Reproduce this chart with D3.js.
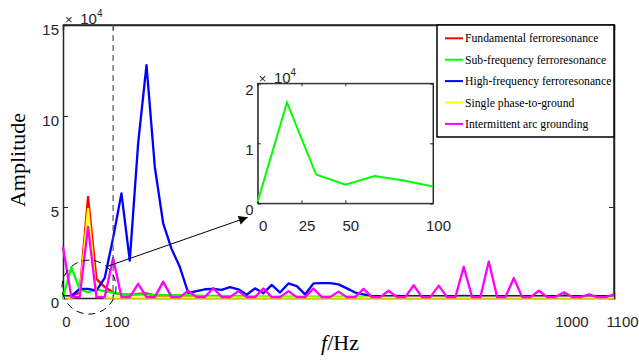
<!DOCTYPE html>
<meta charset="utf-8">
<style>
    body { margin: 0; background: #fff; }
    svg { display: block; }
    .tick text { font: 15px "Liberation Sans", Arial, sans-serif; fill: #262626; }
    .axis path, .axis line { stroke: #262626; }
    .legend text { font: 11.7px "Liberation Serif", "Times New Roman", serif; fill: #000; }
    .title { font: 22px "Liberation Serif", "Times New Roman", serif; fill: #000; }
</style>
<body>
<script src="https://cdn.jsdelivr.net/npm/d3@7"></script>
<script>
// frequency bins (Hz)
var freq = [0, 16.7, 33.3, 50, 66.7, 83.3, 100, 116.7, 133.3, 150, 166.7, 183.3, 200, 216.7, 233.3, 250,
    266.7, 283.3, 300, 316.7, 333.3, 350, 366.7, 383.3, 400, 416.7, 433.3, 450, 466.7, 483.3, 500,
    516.7, 533.3, 550, 566.7, 583.3, 600, 616.7, 633.3, 650, 666.7, 683.3, 700, 716.7, 733.3, 750,
    766.7, 783.3, 800, 816.7, 833.3, 850, 866.7, 883.3, 900, 916.7, 933.3, 950, 966.7, 983.3, 1000,
    1016.7, 1033.3, 1050, 1066.7, 1083.3, 1100];

// amplitudes (x 10^4)
var fundamental = [0.05, 0.1, 0.3, 5.55, 1.05, 0.6, 0.3, 0.2, 0.18, 0.22, 0.25, 0.15, 0.1, 0.08, 0.06, 0.05,
    0.05, 0.05, 0.05, 0.05, 0.05, 0.05, 0.05, 0.05, 0.05, 0.05, 0.05, 0.05, 0.05, 0.05, 0.05,
    0.05, 0.05, 0.05, 0.05, 0.05, 0.05, 0.05, 0.05, 0.05, 0.05, 0.05, 0.05, 0.05, 0.05, 0.05,
    0.05, 0.05, 0.05, 0.05, 0.05, 0.05, 0.05, 0.05, 0.05, 0.05, 0.05, 0.05, 0.05, 0.05, 0.05,
    0.05, 0.05, 0.05, 0.05, 0.05, 0.05];
var subFreq = [0.03, 1.68, 0.48, 0.31, 0.455, 0.38, 0.28, 0.22, 0.2, 0.2, 0.18, 0.17, 0.16, 0.15, 0.15, 0.14,
    0.13, 0.12, 0.12, 0.11, 0.1, 0.1, 0.09, 0.09, 0.08, 0.08, 0.08, 0.08, 0.07, 0.07, 0.07,
    0.07, 0.07, 0.07, 0.07, 0.07, 0.07, 0.07, 0.07, 0.07, 0.07, 0.07, 0.07, 0.07, 0.07, 0.07,
    0.07, 0.07, 0.07, 0.07, 0.07, 0.07, 0.07, 0.07, 0.07, 0.07, 0.07, 0.07, 0.07, 0.07, 0.07,
    0.07, 0.07, 0.07, 0.07, 0.07, 0.07];
var highFreq = [0.1, 0.12, 0.5, 0.5, 0.4, 1.1, 3.3, 5.75, 2.05, 8.5, 12.8, 7.2, 4.1, 2.7, 1.7, 0.28,
    0.38, 0.48, 0.5, 0.45, 0.6, 0.48, 0.18, 0.53, 0.26, 0.72, 0.3, 0.8, 0.65, 0.2, 0.8,
    0.82, 0.82, 0.75, 0.53, 0.3, 0.2, 0.1, 0.1, 0.1, 0.11, 0.1, 0.1, 0.1, 0.1, 0.1,
    0.1, 0.1, 0.11, 0.1, 0.1, 0.1, 0.1, 0.1, 0.1, 0.1, 0.1, 0.1, 0.1, 0.1, 0.12,
    0.1, 0.1, 0.1, 0.1, 0.1, 0.1];
var singlePhase = [0.02, 0.02, 0.1, 4.9, 0.2, 0.02, 0.02, 0.02, 0.02, 0.02, 0.02, 0.02, 0.02, 0.02, 0.02, 0.02,
    0.02, 0.02, 0.02, 0.02, 0.02, 0.02, 0.02, 0.02, 0.02, 0.02, 0.02, 0.02, 0.02, 0.02, 0.02,
    0.02, 0.02, 0.02, 0.02, 0.02, 0.02, 0.02, 0.02, 0.02, 0.02, 0.02, 0.02, 0.02, 0.02, 0.02,
    0.02, 0.02, 0.02, 0.02, 0.02, 0.02, 0.02, 0.02, 0.02, 0.02, 0.02, 0.02, 0.02, 0.02, 0.02,
    0.02, 0.02, 0.02, 0.02, 0.02, 0.02];
var arcGround = [2.8, 0.05, 0.05, 3.9, 0.05, 0.05, 2.2, 0.05, 0.05, 0.78, 0.05, 0.05, 0.9, 0.05, 0.05, 0.4,
    0.05, 0.05, 0.55, 0.05, 0.05, 0.38, 0.05, 0.05, 0.52, 0.05, 0.05, 0.38, 0.05, 0.05, 0.52,
    0.05, 0.05, 0.35, 0.05, 0.05, 0.5, 0.05, 0.05, 0.4, 0.05, 0.05, 0.7, 0.05, 0.05, 0.68,
    0.05, 0.05, 1.72, 0.05, 0.05, 2.0, 0.05, 0.05, 1.1, 0.05, 0.05, 0.4, 0.05, 0.05, 0.31,
    0.05, 0.05, 0.2, 0.05, 0.05, 0.2];

var seriesNames = ["Fundamental ferroresonance", "Sub-frequency ferroresonance", "High-frequency ferroresonance",
    "Single phase-to-ground", "Intermittent arc grounding"];
var seriesColors = ["#ff0000", "#00ff00", "#0000ff", "#ffff00", "#ff00ff"];
var seriesValues = [fundamental, subFreq, highFreq, singlePhase, arcGround];

var xTicks = [0, 100, 1000, 1100];
var yTicks = [0, 5, 10, 15];

// inset (zoom of the sub-frequency series, 0-100 Hz)
var insetFreq = [0, 16.7, 33.3, 50, 66.7, 83.3, 100];
var insetValues = [0.03, 1.68, 0.48, 0.31, 0.455, 0.38, 0.28];
var insetXTicks = [0, 25, 50, 100];
var insetYTicks = [0, 1, 2];

var width = 639, height = 361;
var fmt = d3.format("d");

var svg = d3.select("body").append("svg")
    .attr("width", width)
    .attr("height", height);

var defs = svg.append("defs");
defs.append("marker")
    .attr("id", "arrow")
    .attr("viewBox", "0 0 10 10")
    .attr("refX", 10).attr("refY", 5)
    .attr("markerWidth", 13).attr("markerHeight", 9)
    .attr("markerUnits", "userSpaceOnUse")
    .attr("orient", "auto")
    .append("path")
    .attr("d", "M0,0L10,5L0,10z")
    .attr("fill", "#000");

var x = d3.scaleLinear().domain([0, 1100]).range([63, 614]);
var y = d3.scaleLinear().domain([0, 15]).range([298, 25]);

// box: top and right edges
svg.append("path")
    .attr("d", "M" + x(0) + "," + y(15) + "H" + x(1100) + "V" + y(0))
    .attr("fill", "none").attr("stroke", "#262626").attr("stroke-width", 1.5);

var xAxis = svg.append("g").attr("class", "axis")
    .attr("transform", "translate(0," + y(0) + ")")
    .call(d3.axisBottom(x).tickValues(xTicks).tickSize(-5).tickPadding(18).tickFormat(fmt));
xAxis.selectAll("text").attr("dx", function(d) { return 3 + d / 1100 * 5; });

svg.append("g").attr("class", "axis")
    .attr("transform", "translate(0," + y(15) + ")")
    .call(d3.axisTop(x).tickValues(xTicks).tickSize(-5).tickFormat(""));

var yAxis = svg.append("g").attr("class", "axis")
    .attr("transform", "translate(" + x(0) + ",0)")
    .call(d3.axisLeft(y).tickValues(yTicks).tickSize(-5).tickPadding(4).tickFormat(fmt));
yAxis.selectAll("text").attr("y", 5);

svg.append("g").attr("class", "axis")
    .attr("transform", "translate(" + x(1100) + ",0)")
    .call(d3.axisRight(y).tickValues(yTicks).tickSize(-5).tickFormat(""));

svg.selectAll(".axis path.domain").attr("stroke-width", 1.5);
svg.selectAll(".axis .tick line").attr("stroke-width", 1);

// x 10^4 multiplier
var mult = svg.append("text")
    .attr("x", x(0) + 2).attr("y", y(15) - 1)
    .style("font-family", "'Liberation Sans', Arial, sans-serif")
    .attr("fill", "#262626");
mult.append("tspan").style("font-size", "13px").text("\u00d7 ");
mult.append("tspan").style("font-size", "15px").attr("dx", 4).text("10");
mult.append("tspan").style("font-size", "10px").attr("dy", -7).text("4");

// series lines
var line = d3.line()
    .x(function(d) { return x(d[0]); })
    .y(function(d) { return y(d[1]); });

seriesValues.forEach(function(vals, i) {
    svg.append("path")
        .datum(freq.map(function(f, k) { return [f, vals[k]]; }))
        .attr("d", line)
        .attr("fill", "none")
        .attr("stroke", seriesColors[i])
        .attr("stroke-width", 2.3)
        .attr("stroke-linejoin", "round");
});

// dashed line at 100 Hz
svg.append("line")
    .attr("x1", x(100)).attr("x2", x(100))
    .attr("y1", y(15)).attr("y2", y(0))
    .attr("stroke", "#555").attr("stroke-width", 1.2)
    .attr("stroke-dasharray", "6,4");

// dashed circle around the low-frequency zone
var cx = x(52), cy = y(0.6), cr = 27;
svg.append("circle")
    .attr("cx", cx).attr("cy", cy).attr("r", cr)
    .attr("fill", "none").attr("stroke", "#000").attr("stroke-width", 1)
    .attr("stroke-dasharray", "7,5");

// inset
var ix = d3.scaleLinear().domain([0, 100]).range([257.7, 433]);
var iy = d3.scaleLinear().domain([0, 2]).range([203.3, 83.3]);

var ang = Math.atan2(-21, 18);
svg.append("line")
    .attr("x1", cx + cr * Math.cos(ang)).attr("y1", cy + cr * Math.sin(ang))
    .attr("x2", ix(0) - 10).attr("y2", iy(0) + 14)
    .attr("stroke", "#000").attr("stroke-width", 1)
    .attr("marker-end", "url(#arrow)");

var inset = svg.append("g");
inset.append("rect")
    .attr("x", ix(0)).attr("y", iy(2))
    .attr("width", ix(100) - ix(0)).attr("height", iy(0) - iy(2))
    .attr("fill", "#fff").attr("stroke", "#404040").attr("stroke-width", 1);

var ixAxis = inset.append("g").attr("class", "axis")
    .attr("transform", "translate(0," + iy(0) + ")")
    .call(d3.axisBottom(ix).tickValues(insetXTicks).tickSize(-3).tickPadding(17).tickFormat(fmt));
ixAxis.selectAll("text").attr("dx", 5);
inset.append("g").attr("class", "axis")
    .attr("transform", "translate(0," + iy(2) + ")")
    .call(d3.axisTop(ix).tickValues(insetXTicks).tickSize(-3).tickFormat(""));
var iyAxis = inset.append("g").attr("class", "axis")
    .attr("transform", "translate(" + ix(0) + ",0)")
    .call(d3.axisLeft(iy).tickValues(insetYTicks).tickSize(-3).tickPadding(4).tickFormat(fmt));
iyAxis.selectAll("text").attr("y", 6);
inset.append("g").attr("class", "axis")
    .attr("transform", "translate(" + ix(100) + ",0)")
    .call(d3.axisRight(iy).tickValues(insetYTicks).tickSize(-3).tickFormat(""));
inset.selectAll(".axis path.domain").attr("stroke", "#404040").attr("stroke-width", 1);

var iline = d3.line()
    .x(function(d) { return ix(d[0]); })
    .y(function(d) { return iy(d[1]); });
inset.append("path")
    .datum(insetFreq.map(function(f, k) { return [f, insetValues[k]]; }))
    .attr("d", iline)
    .attr("fill", "none")
    .attr("stroke", seriesColors[1])
    .attr("stroke-width", 2);

var imult = inset.append("text")
    .attr("x", ix(0) + 1).attr("y", iy(2))
    .style("font-family", "'Liberation Sans', Arial, sans-serif")
    .attr("fill", "#262626");
imult.append("tspan").style("font-size", "13px").text("\u00d7 ");
imult.append("tspan").style("font-size", "15px").attr("dx", 4).text("10");
imult.append("tspan").style("font-size", "10px").attr("dy", -7).text("4");

// legend
var legend = svg.append("g").attr("class", "legend");
legend.append("rect")
    .attr("x", 437).attr("y", 25)
    .attr("width", 177).attr("height", 112)
    .attr("fill", "#fff").attr("stroke", "#000").attr("stroke-width", 1.5);

seriesNames.forEach(function(name, i) {
    var ly = 38.3 + i * 21.4;
    legend.append("line")
        .attr("x1", 445).attr("x2", 463)
        .attr("y1", ly).attr("y2", ly)
        .attr("stroke", seriesColors[i]).attr("stroke-width", 2);
    legend.append("text")
        .attr("x", 465).attr("y", ly)
        .attr("dy", "0.35em")
        .text(name);
});

// axis titles
var xt = svg.append("text").attr("class", "title")
    .attr("x", 340).attr("y", 350)
    .attr("text-anchor", "middle");
xt.append("tspan").style("font-style", "italic").text("f");
xt.append("tspan").text("/Hz");

svg.append("text").attr("class", "title")
    .attr("transform", "translate(25,160) rotate(-90)")
    .attr("text-anchor", "middle")
    .text("Amplitude");
</script>
</body>
</html>
